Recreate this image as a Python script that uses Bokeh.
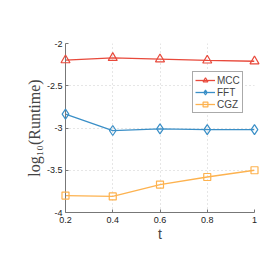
from bokeh.plotting import figure
from bokeh.models import Range1d, FixedTicker, Legend, LegendItem
from bokeh.embed import file_html
from bokeh.resources import INLINE

t = [0.2, 0.4, 0.6, 0.8, 1.0]
mcc = [-2.197, -2.17, -2.186, -2.20, -2.21]
fft = [-2.836, -3.03, -3.01, -3.02, -3.02]
cgz = [-3.80, -3.81, -3.67, -3.58, -3.50]

x_ticks = [0.2, 0.4, 0.6, 0.8, 1.0]
x_tick_labels = ["0.2", "0.4", "0.6", "0.8", "1"]
y_ticks = [-4, -3.5, -3, -2.5, -2]
y_tick_labels = ["-4", "-3.5", "-3", "-2.5", "-2"]

red = "#e8493b"
blue = "#3a8fc7"
orange = "#fdb24f"

p = figure(width=265, height=251, output_backend="svg", toolbar_location=None,
           x_range=Range1d(0.2, 1.0), y_range=Range1d(-4, -2),
           min_border_left=65, min_border_right=11, min_border_top=43, min_border_bottom=39)
p.outline_line_color = None

for ax in (p.xaxis[0], p.yaxis[0]):
    ax.axis_line_color = "#777777"
    ax.major_tick_line_color = "#777777"
    ax.major_tick_in = 3
    ax.major_tick_out = 0
    ax.minor_tick_line_color = None
    ax.major_label_text_font = "Liberation Sans"
    ax.major_label_text_font_size = "9px"
    ax.major_label_text_color = "#222222"

p.xaxis.ticker = FixedTicker(ticks=x_ticks)
p.xaxis.major_label_overrides = dict(zip(x_ticks, x_tick_labels))
p.yaxis.ticker = FixedTicker(ticks=y_ticks)
p.yaxis.major_label_overrides = dict(zip(y_ticks, y_tick_labels))
p.xaxis.major_label_standoff = 4
p.yaxis.major_label_standoff = 3

p.xaxis.axis_label = "t"
p.xaxis.axis_label_text_font = "Liberation Sans"
p.xaxis.axis_label_text_font_style = "normal"
p.xaxis.axis_label_text_font_size = "14px"
p.xaxis.axis_label_standoff = 0
p.yaxis.axis_label = "log\u2081\u2080(Runtime)"
p.yaxis.axis_label_text_font = "Liberation Serif"
p.yaxis.axis_label_text_font_style = "normal"
p.yaxis.axis_label_text_font_size = "16px"
p.yaxis.axis_label_standoff = 1

p.xgrid.grid_line_color = "#cccccc"
p.xgrid.grid_line_dash = "1 3"
p.ygrid.grid_line_color = "#cccccc"
p.ygrid.grid_line_dash = "1 3"

l1 = p.line(t, mcc, line_color=red, line_width=1.3)
m1 = p.scatter(t, mcc, marker="triangle", size=9, line_color=red, fill_color=None, line_width=1.2, level="overlay")
l2 = p.line(t, fft, line_color=blue, line_width=1.3)
m2 = p.scatter(t, fft, marker="diamond", size=10, line_color=blue, fill_color=None, line_width=1.2, level="overlay")
l3 = p.line(t, cgz, line_color=orange, line_width=1.3)
m3 = p.scatter(t, cgz, marker="square", size=7, line_color=orange, fill_color=None, line_width=1.2, level="overlay")

legend = Legend(items=[LegendItem(label="MCC", renderers=[l1, m1]),
                       LegendItem(label="FFT", renderers=[l2, m2]),
                       LegendItem(label="CGZ", renderers=[l3, m3])],
                location=(127, 99))
legend.label_text_font = "Liberation Sans"
legend.label_text_font_size = "10px"
legend.glyph_width = 20
legend.glyph_height = 12
legend.label_height = 12
legend.label_width = 10
legend.label_standoff = 2
legend.padding = 2
legend.spacing = 0
legend.margin = 0
legend.border_line_color = "#555555"
legend.background_fill_alpha = 1.0
p.add_layout(legend, "center")

open("out.html", "w").write(file_html(p, INLINE))
